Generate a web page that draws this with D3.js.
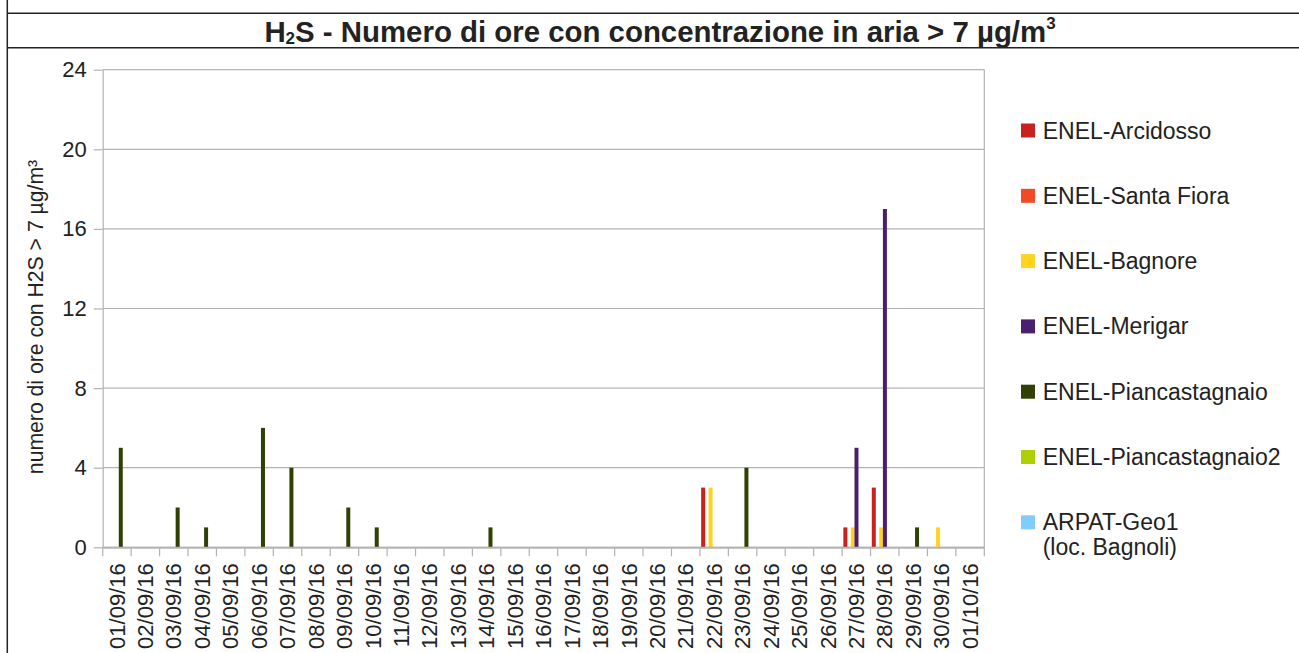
<!DOCTYPE html>
<html>
<head>
<meta charset="utf-8">
<script src="https://cdn.jsdelivr.net/npm/d3@7"></script>
<style>
  html, body { margin: 0; padding: 0; background: #fff; }
  svg { display: block; font-family: "Liberation Sans", Arial, sans-serif; }
</style>
</head>
<body>
<svg id="chart" width="1299" height="653"></svg>
<script>
// ---- data ----
const dates = ["01/09/16","02/09/16","03/09/16","04/09/16","05/09/16","06/09/16","07/09/16","08/09/16","09/09/16","10/09/16",
  "11/09/16","12/09/16","13/09/16","14/09/16","15/09/16","16/09/16","17/09/16","18/09/16","19/09/16","20/09/16",
  "21/09/16","22/09/16","23/09/16","24/09/16","25/09/16","26/09/16","27/09/16","28/09/16","29/09/16","30/09/16","01/10/16"];
const seriesNames = ["ENEL-Arcidosso","ENEL-Santa Fiora","ENEL-Bagnore","ENEL-Merigar","ENEL-Piancastagnaio","ENEL-Piancastagnaio2","ARPAT-Geo1 (loc. Bagnoli)"];
const seriesColors = ["#c9211e","#f04b24","#ffd320","#4b1f6f","#314004","#aecf00","#83caff"];
const arcidosso      = [0,0,0,0,0,0,0,0,0,0, 0,0,0,0,0,0,0,0,0,0, 0,3,0,0,0,0,1,3,0,0,0];
const santaFiora     = [0,0,0,0,0,0,0,0,0,0, 0,0,0,0,0,0,0,0,0,0, 0,0,0,0,0,0,0,0,0,0,0];
const bagnore        = [0,0,0,0,0,0,0,0,0,0, 0,0,0,0,0,0,0,0,0,0, 0,3,0,0,0,0,1,1,0,1,0];
const merigar        = [0,0,0,0,0,0,0,0,0,0, 0,0,0,0,0,0,0,0,0,0, 0,0,0,0,0,0,5,17,0,0,0];
const piancastagnaio = [5,0,2,1,0,6,4,0,2,1, 0,0,0,1,0,0,0,0,0,0, 0,0,4,0,0,0,0,0,1,0,0];
const piancastagnaio2= [0,0,0,0,0,0,0,0,0,0, 0,0,0,0,0,0,0,0,0,0, 0,0,0,0,0,0,0,0,0,0,0];
const arpatGeo1      = [0,0,0,0,0,0,0,0,0,0, 0,0,0,0,0,0,0,0,0,0, 0,0,0,0,0,0,0,0,0,0,0];
const seriesValues = [arcidosso, santaFiora, bagnore, merigar, piancastagnaio, piancastagnaio2, arpatGeo1];
const yTicks = [0,4,8,12,16,20,24];
const titleMain = "S - Numero di ore con concentrazione in aria > 7 µg/m";
const yLabel = "numero di ore con H2S > 7 µg/m³";

// ---- layout ----
const svg = d3.select("#chart");
const L = 102.7, R = 984.3, T = 69.7, B = 547.3;
const gridColor = "#b3b3b3";
const textColor = "#222";

const x = d3.scaleBand().domain(dates).range([L, R]).padding(0);
const bw = x.bandwidth();
const x1 = d3.scaleBand().domain(seriesNames).range([1.25, bw - 1.25]).padding(0);
const y = d3.scaleLinear().domain([0, 24]).range([B, T]);

// frame
svg.append("line").attr("x1", 7.3).attr("x2", 7.3).attr("y1", 0).attr("y2", 653)
  .attr("stroke", textColor).attr("stroke-width", 1.5);
svg.append("line").attr("x1", 7).attr("x2", 1299).attr("y1", 13.3).attr("y2", 13.3)
  .attr("stroke", textColor).attr("stroke-width", 1.5);
svg.append("line").attr("x1", 7).attr("x2", 1299).attr("y1", 47.7).attr("y2", 47.7)
  .attr("stroke", textColor).attr("stroke-width", 1.5);

// title
const title = svg.append("text").attr("x", 660).attr("y", 41.7)
  .attr("text-anchor", "middle").attr("font-weight", "bold").attr("font-size", 29.4).attr("fill", textColor);
title.append("tspan").text("H");
title.append("tspan").attr("font-size", 17).attr("dy", 2).text("2");
title.append("tspan").attr("dy", -2).text(titleMain);
title.append("tspan").attr("font-size", 17).attr("dy", -12.8).text("3");

// gridlines
svg.append("g").selectAll("line").data(yTicks).join("line")
  .attr("x1", L).attr("x2", R).attr("y1", d => y(d)).attr("y2", d => y(d))
  .attr("stroke", gridColor).attr("stroke-width", 1.2);

// right border
svg.append("line").attr("x1", R).attr("x2", R).attr("y1", T).attr("y2", B)
  .attr("stroke", gridColor).attr("stroke-width", 1.2);

// y axis
const yAxis = svg.append("g").attr("transform", `translate(${L},0)`)
  .call(d3.axisLeft(y).tickValues(yTicks).tickSize(9).tickPadding(7).tickSizeOuter(0));
yAxis.select(".domain").attr("stroke", gridColor).attr("stroke-width", 1.2);
yAxis.selectAll(".tick line").attr("stroke", gridColor).attr("stroke-width", 1.2);
yAxis.selectAll(".tick text").attr("font-size", 22).attr("fill", textColor)
  .attr("font-family", "Liberation Sans, Arial, sans-serif");

// bars
seriesNames.forEach((name, si) => {
  svg.append("g").selectAll("rect")
    .data(dates.map((d, i) => ({ d, v: seriesValues[si][i] })).filter(o => o.v > 0))
    .join("rect")
    .attr("x", o => x(o.d) + x1(name))
    .attr("width", x1.bandwidth() + 0.3)
    .attr("y", o => y(o.v))
    .attr("height", o => y(0) - y(o.v))
    .attr("fill", seriesColors[si]);
});

// x axis
const xAxis = svg.append("g").attr("transform", `translate(0,${B})`)
  .call(d3.axisBottom(x).tickSize(0).tickSizeOuter(0));
xAxis.select(".domain").attr("stroke", gridColor).attr("stroke-width", 2);
xAxis.selectAll(".tick text")
  .attr("transform", "rotate(-90)")
  .attr("x", -16).attr("y", 0).attr("dy", "0.35em")
  .attr("text-anchor", "end")
  .attr("font-size", 22).attr("fill", textColor)
  .attr("font-family", "Liberation Sans, Arial, sans-serif");
// boundary ticks
const bounds = dates.map(d => x(d)).concat([x(dates[dates.length - 1]) + bw]);
svg.append("g").selectAll("line").data(bounds).join("line")
  .attr("x1", d => d).attr("x2", d => d).attr("y1", B).attr("y2", B + 9)
  .attr("stroke", gridColor).attr("stroke-width", 1.2);

// y label
svg.append("text").attr("transform", "translate(43,317) rotate(-90)")
  .attr("text-anchor", "middle").attr("font-size", 21.2).attr("fill", textColor)
  .text(yLabel);

// legend
const lg = svg.append("g");
seriesNames.forEach((name, i) => {
  const cy = 130.5 + i * 65.3;
  lg.append("rect").attr("x", 1021).attr("y", cy - 7).attr("width", 14).attr("height", 14)
    .attr("fill", seriesColors[i]);
  const t = lg.append("text").attr("x", 1042.7).attr("y", cy + 8)
    .attr("font-size", 23).attr("fill", textColor);
  if (name.indexOf(" (") > 0) {
    const parts = [name.slice(0, name.indexOf(" (")), name.slice(name.indexOf(" (") + 1)];
    t.append("tspan").attr("x", 1042.7).text(parts[0]);
    t.append("tspan").attr("x", 1042.7).attr("dy", 25).text(parts[1]);
  } else {
    t.text(name);
  }
});
</script>
</body>
</html>
